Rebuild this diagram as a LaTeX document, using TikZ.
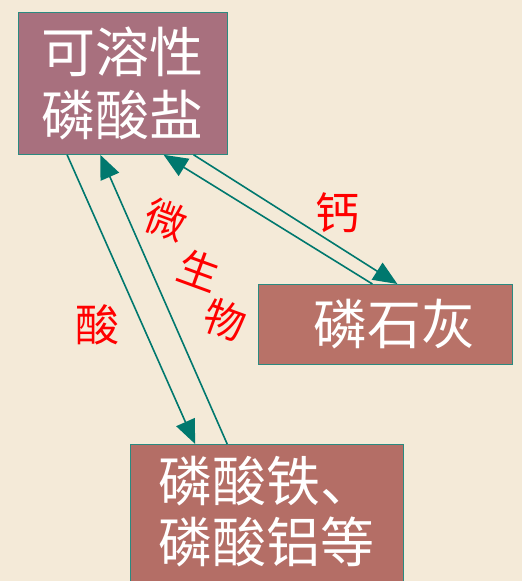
\documentclass[tikz,border=0pt]{standalone}
\usepackage{fontspec}
\newfontfamily\cjk{Noto Sans CJK SC}
\usetikzlibrary{arrows.meta,calc}
\definecolor{bg}{HTML}{F4EAD8}
\definecolor{boxA}{HTML}{A8707E}
\definecolor{boxB}{HTML}{B87268}
\definecolor{boxC}{HTML}{B46E66}
\definecolor{edge}{HTML}{2A8A80}
\definecolor{arr}{HTML}{00786E}
\tikzset{
  box/.style={draw=edge, line width=0.8pt, inner sep=0pt, anchor=north west,
    text=white, font=\cjk\fontsize{54}{63}\selectfont, align=center},
  flow/.style={draw=arr, line width=1.6pt, -{Triangle[length=24pt,width=20pt]}},
  lbl/.style={text=red, font=\cjk\fontsize{44}{44}\selectfont, inner sep=0pt},
  rlbl/.style={lbl, font=\cjk\fontsize{41}{41}\selectfont, rotate=-20}
}
\begin{document}
\begin{tikzpicture}[x=1pt,y=-1pt]
\useasboundingbox (0,0) rectangle (522,581);
\clip (0,0) rectangle (522,581);
\fill[bg] (0,0) rectangle (522,581);
\node[box, fill=boxA, minimum width=209pt, minimum height=142pt] (b1) at (18,12) {可溶性\\磷酸盐};
\node[box, fill=boxB, minimum width=254pt, minimum height=80pt] (b2) at (258,284) {\hspace*{18pt}磷石灰};
\node[box, fill=boxC, minimum width=273pt, minimum height=170pt, anchor=north west] (b3) at (130,444) {};
\node[text=white, font=\cjk\fontsize{54}{61}\selectfont, align=left, anchor=north west, inner sep=0pt] (t3) at (158,456) {磷酸铁、\\磷酸铝等};
\coordinate (p1) at ($(b1.south west)!0.234!(b1.south east)$);
\coordinate (p2) at ($(b1.south west)!0.392!(b1.south east)$);
\coordinate (p3) at ($(b1.south west)!0.694!(b1.south east)$);
\coordinate (p4) at ($(b1.south west)!0.837!(b1.south east)$);
\coordinate (q1) at ($(b3.north west)!0.238!(b3.north east)$);
\coordinate (q2) at ($(b3.north west)!0.355!(b3.north east)$);
\coordinate (r1) at ($(b2.north west)!0.449!(b2.north east)$);
\coordinate (r2) at ($(b2.north west)!0.547!(b2.north east)$);
\draw[flow] (p1) -- (q1);
\draw[flow] (q2) -- (p2);
\draw[flow] (p4) -- (r2);
\draw[flow] (r1) -- (p3);
\node[lbl] (l1) at (337,213) {钙};
\node[lbl] (l2) at (97,325) {酸};
\node[rlbl] (l3) at (166,220) {微};
\node[rlbl] (l4) at (199,270) {生};
\node[rlbl] (l5) at (225,320) {物};
\end{tikzpicture}
\end{document}
